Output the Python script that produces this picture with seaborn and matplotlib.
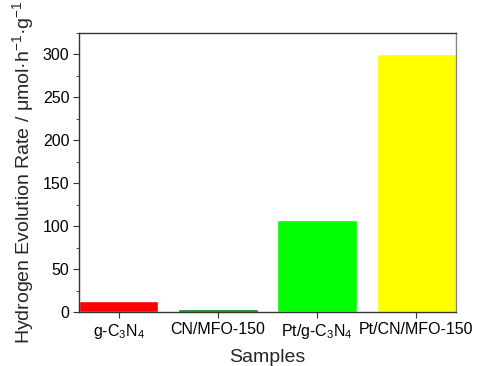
import pandas as pd
import matplotlib
matplotlib.use('Agg')
import matplotlib.pyplot as plt
import seaborn as sns
from matplotlib.ticker import MultipleLocator

samples = ['g-C$_3$N$_4$', 'CN/MFO-150', 'Pt/g-C$_3$N$_4$', 'Pt/CN/MFO-150']
rates = [13, 3, 107, 301]
colors = ['#ff0000', '#007f00', '#00ff00', '#ffff00']

data = pd.DataFrame({'Sample': samples, 'Rate': rates})

sns.set_style('ticks')
plt.rcParams['font.family'] = ['Liberation Sans', 'DejaVu Sans']
plt.rcParams['mathtext.fontset'] = 'custom'
plt.rcParams['mathtext.rm'] = 'Liberation Sans'

fig = plt.figure(figsize=(4.86, 3.66), dpi=100)
ax = fig.add_axes([79 / 486, 1 - 312 / 366, 377 / 486, 279 / 366])
sns.barplot(x='Sample', y='Rate', data=data, hue='Sample', palette=colors,
            legend=False, width=0.8, saturation=1, ax=ax)
ax.set_xlim(-0.4, 3.4)
ax.set_ylim(0, 325)
ax.yaxis.set_major_locator(MultipleLocator(50))
ax.yaxis.set_minor_locator(MultipleLocator(25))
ax.tick_params(axis='both', which='major', direction='out', length=4,
               labelsize=11.5, color='#333333', labelcolor='black', pad=3)
ax.tick_params(axis='y', which='minor', direction='out', length=2, color='#333333')
for s in ax.spines.values():
    s.set_color('#333333')
    s.set_linewidth(1.0)
ax.spines['right'].set_color('#888888')
ax.set_xlabel('Samples', fontsize=14, labelpad=6)
ax.set_ylabel('Hydrogen Evolution Rate / \u03bcmol\u00b7h$^{-1}$\u00b7g$^{-1}$', fontsize=14, labelpad=4)
plt.savefig('out.png', dpi=100)
